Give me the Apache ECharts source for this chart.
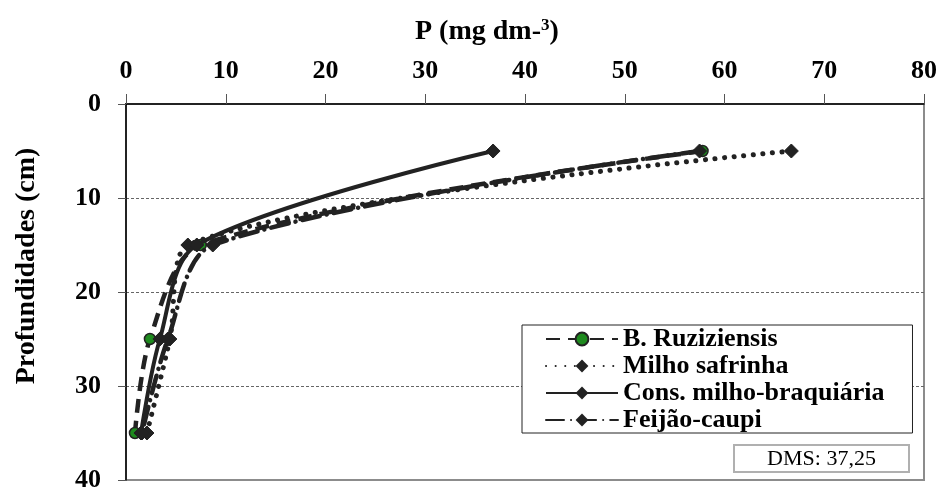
<!DOCTYPE html>
<html>
<head>
<meta charset="utf-8">
<script src="https://cdn.jsdelivr.net/npm/echarts@6/dist/echarts.min.js"></script>
<style>
  html, body { margin: 0; padding: 0; background: #fff; }
  #chart { width: 940px; height: 493px; }
</style>
</head>
<body>
<div id="chart"></div>
<script>
// Soil depth layers (cm) and available P (mg dm-3) per cover crop
const depths = [5, 15, 25, 35];
const seriesNames = ['B. Ruziziensis', 'Milho safrinha', 'Cons. milho-braquiária', 'Feijão-caupi'];
const ruziziensis = [57.8, 7.5, 2.4, 0.9];
const milhoSafrinha = [66.7, 6.2, 4.4, 2.1];
const consorcio = [36.8, 7.1, 3.4, 1.5];
const feijaoCaupi = [57.5, 8.7, 4.2, 1.6];
const xTicks = [0, 10, 20, 30, 40, 50, 60, 70, 80];
const yTicks = [0, 10, 20, 30, 40];
const xTitle = 'P (mg dm-';
const yTitle = 'Profundidades (cm)';
const dmsText = 'DMS: 37,25';

const FONT = '"Liberation Serif", "Times New Roman", serif';
const INK = '#222222';

function pairs(values) {
  return values.map((v, i) => [v, depths[i]]);
}

const chart = echarts.init(document.getElementById('chart'), null, { renderer: 'canvas' });

const common = {
  type: 'line',
  smooth: 0.3,
  symbolSize: 14,
  symbol: 'diamond',
  itemStyle: { color: INK, borderColor: INK },
  emphasis: { disabled: true },
  animation: false
};

chart.setOption({
  backgroundColor: '#ffffff',
  animation: false,
  title: {
    text: '{t|' + xTitle + '}{s|3}{t|)}',
    left: 415, top: 17, padding: 0,
    textStyle: {
      rich: {
        t: { fontFamily: FONT, fontWeight: 'bold', fontSize: 28, color: '#000' },
        s: { fontFamily: FONT, fontWeight: 'bold', fontSize: 17, color: '#000', verticalAlign: 'top', padding: [0, 0, 12, 0] }
      }
    }
  },
  grid: {
    left: 126, top: 104, right: 16, bottom: 7,
    show: true, borderColor: '#8c8c8c', borderWidth: 2, backgroundColor: '#ffffff'
  },
  xAxis: {
    type: 'value', position: 'top', min: xTicks[0], max: xTicks[xTicks.length - 1], interval: 10,
    axisLine: { show: true, lineStyle: { color: '#000', width: 1.5 } },
    axisTick: { show: true, length: 10, lineStyle: { color: '#555', width: 1 } },
    axisLabel: { fontFamily: FONT, fontWeight: 'bold', fontSize: 26, color: '#000', margin: 20 },
    splitLine: { show: false }
  },
  yAxis: {
    type: 'value', inverse: true, min: yTicks[0], max: yTicks[yTicks.length - 1], interval: 10,
    axisLine: { show: true, lineStyle: { color: '#000', width: 1.5 } },
    axisTick: { show: true, length: 8, lineStyle: { color: '#555', width: 1 } },
    axisLabel: { fontFamily: FONT, fontWeight: 'bold', fontSize: 26, color: '#000', margin: 25 },
    splitLine: {
      show: true,
      lineStyle: { color: '#666', width: 1, type: [3, 2] },
      showMinLine: false, showMaxLine: false
    }
  },
  legend: {
    orient: 'vertical',
    left: 522, top: 325,
    padding: [1, 28, 0, 23],
    itemGap: 1,
    itemWidth: 72, itemHeight: 16,
    backgroundColor: '#ffffff',
    borderColor: '#222', borderWidth: 1,
    textStyle: { fontFamily: FONT, fontWeight: 'bold', fontSize: 26, color: '#000', lineHeight: 20 },
    data: seriesNames
  },
  graphic: [
    {
      type: 'text', x: 27, y: 266, rotation: Math.PI / 2,
      style: { text: yTitle, font: 'bold 28px ' + FONT, fill: '#000', align: 'center', verticalAlign: 'middle' }
    },
    {
      type: 'group', right: 30, bottom: 20,
      children: [
        { type: 'rect', shape: { x: 0, y: 0, width: 175, height: 27 }, style: { fill: '#fff', stroke: '#b0b0b0', lineWidth: 2 } },
        { type: 'text', x: 87.5, y: 14, style: { text: dmsText, font: '22px ' + FONT, fill: '#000', align: 'center', verticalAlign: 'middle' } }
      ]
    }
  ],
  series: [
    Object.assign({}, common, {
      name: seriesNames[0], data: pairs(ruziziensis),
      symbol: 'circle', symbolSize: 11,
      itemStyle: { color: '#1e8a1e', borderColor: INK, borderWidth: 1.5 },
      lineStyle: { color: INK, width: 4.5, type: [14, 8] },
      z: 2
    }),
    Object.assign({}, common, {
      name: seriesNames[1], data: pairs(milhoSafrinha),
      lineStyle: { color: INK, width: 5, type: [0.1, 9.5], cap: 'round' },
      z: 3
    }),
    Object.assign({}, common, {
      name: seriesNames[2], data: pairs(consorcio),
      lineStyle: { color: INK, width: 4, type: 'solid' },
      z: 4
    }),
    Object.assign({}, common, {
      name: seriesNames[3], data: pairs(feijaoCaupi),
      lineStyle: { color: INK, width: 4.5, type: [18, 7, 0.1, 7], cap: 'round' },
      z: 5
    })
  ]
});
</script>
</body>
</html>
